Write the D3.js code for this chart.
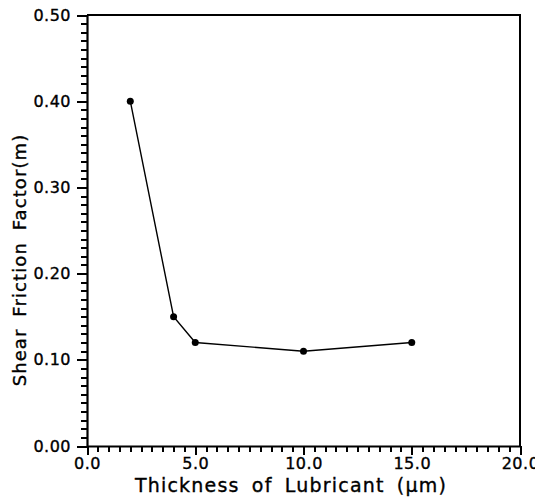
<!DOCTYPE html>
<html>
<head>
<meta charset="utf-8">
<script src="https://cdn.jsdelivr.net/npm/d3@7"></script>
<style>
  body { margin: 0; background: #fff; }
  text { font-family: "DejaVu Sans", sans-serif; fill: #000; stroke: #000; stroke-width: 0.35px; }
  .minor line, .major line { shape-rendering: crispEdges; }
</style>
</head>
<body>
<div id="chart"></div>
<script>
// data
const thickness = [2, 4, 5, 10, 15];
const frictionFactor = [0.40, 0.15, 0.12, 0.11, 0.12];
const xTicks = [0, 5, 10, 15, 20];
const yTicks = [0, 0.1, 0.2, 0.3, 0.4, 0.5];

const width = 535, height = 499;
const margin = {top: 15, right: 15, bottom: 53, left: 87};

const svg = d3.select("#chart").append("svg")
    .attr("width", width)
    .attr("height", height);

const x = d3.scaleLinear().domain([0, 20]).range([margin.left, width - margin.right]);
const y = d3.scaleLinear().domain([0, 0.5]).range([height - margin.bottom, margin.top]);

// frame (top and right plain lines)
svg.append("path")
    .attr("d", `M${x(0)},${y(0.5)}H${x(20)}V${y(0)}`)
    .attr("fill", "none")
    .attr("stroke", "#000")
    .attr("stroke-width", 2);

// minor ticks, drawn with axes that have empty labels
const xMinor = d3.range(0, 41).map(i => i * 0.5);
const yMinor = d3.range(0, 51).map(i => i * 0.01);

svg.append("g")
    .attr("class", "minor")
    .attr("transform", `translate(0,${y(0)})`)
    .call(d3.axisBottom(x).tickValues(xMinor).tickFormat("").tickSize(6).tickSizeOuter(0));

svg.append("g")
    .attr("class", "minor")
    .attr("transform", `translate(${x(0)},0)`)
    .call(d3.axisLeft(y).tickValues(yMinor).tickFormat("").tickSize(6).tickSizeOuter(0));

svg.selectAll(".minor .tick line").attr("stroke", "#000").attr("stroke-width", 2);

// X axis
const xAxis = svg.append("g")
    .attr("class", "major")
    .attr("transform", `translate(0,${y(0)})`)
    .call(d3.axisBottom(x).tickValues(xTicks).tickFormat(d3.format(".1f")).tickSizeInner(9).tickSizeOuter(0).tickPadding(3));
xAxis.select(".domain").attr("stroke-width", 2.2);
xAxis.selectAll(".tick line").attr("stroke-width", 2);
xAxis.selectAll("text").attr("font-size", 16).attr("font-family", "DejaVu Sans").attr("fill", "#000").attr("letter-spacing", 0.5);

// Y axis
const yAxis = svg.append("g")
    .attr("class", "major")
    .attr("transform", `translate(${x(0)},0)`)
    .call(d3.axisLeft(y).tickValues(yTicks).tickFormat(d3.format(".2f")).tickSizeInner(10).tickSizeOuter(0).tickPadding(6));
yAxis.select(".domain").attr("stroke-width", 2.2);
yAxis.selectAll(".tick line").attr("stroke-width", 2);
yAxis.selectAll("text").attr("font-size", 16).attr("font-family", "DejaVu Sans").attr("fill", "#000").attr("letter-spacing", 0.5);

// data line
const points = thickness.map((t, i) => [t, frictionFactor[i]]);
svg.append("path")
    .datum(points)
    .attr("fill", "none")
    .attr("stroke", "#000")
    .attr("stroke-width", 1.4)
    .attr("d", d3.line().x(d => x(d[0])).y(d => y(d[1])));

svg.append("g").selectAll("circle")
    .data(points)
    .join("circle")
    .attr("cx", d => x(d[0]))
    .attr("cy", d => y(d[1]))
    .attr("r", 3.5)
    .attr("fill", "#000");

// axis titles
svg.append("text")
    .attr("x", 291)
    .attr("y", 492)
    .attr("text-anchor", "middle")
    .attr("font-size", 19)
    .attr("letter-spacing", 1.2)
    .attr("word-spacing", 5)
    .text("Thickness of Lubricant (\u03bcm)");

svg.append("text")
    .attr("transform", `translate(26,260) rotate(-90)`)
    .attr("text-anchor", "middle")
    .attr("font-size", 18)
    .attr("letter-spacing", 1.1)
    .attr("word-spacing", 5)
    .text("Shear Friction Factor(m)");
</script>
</body>
</html>
